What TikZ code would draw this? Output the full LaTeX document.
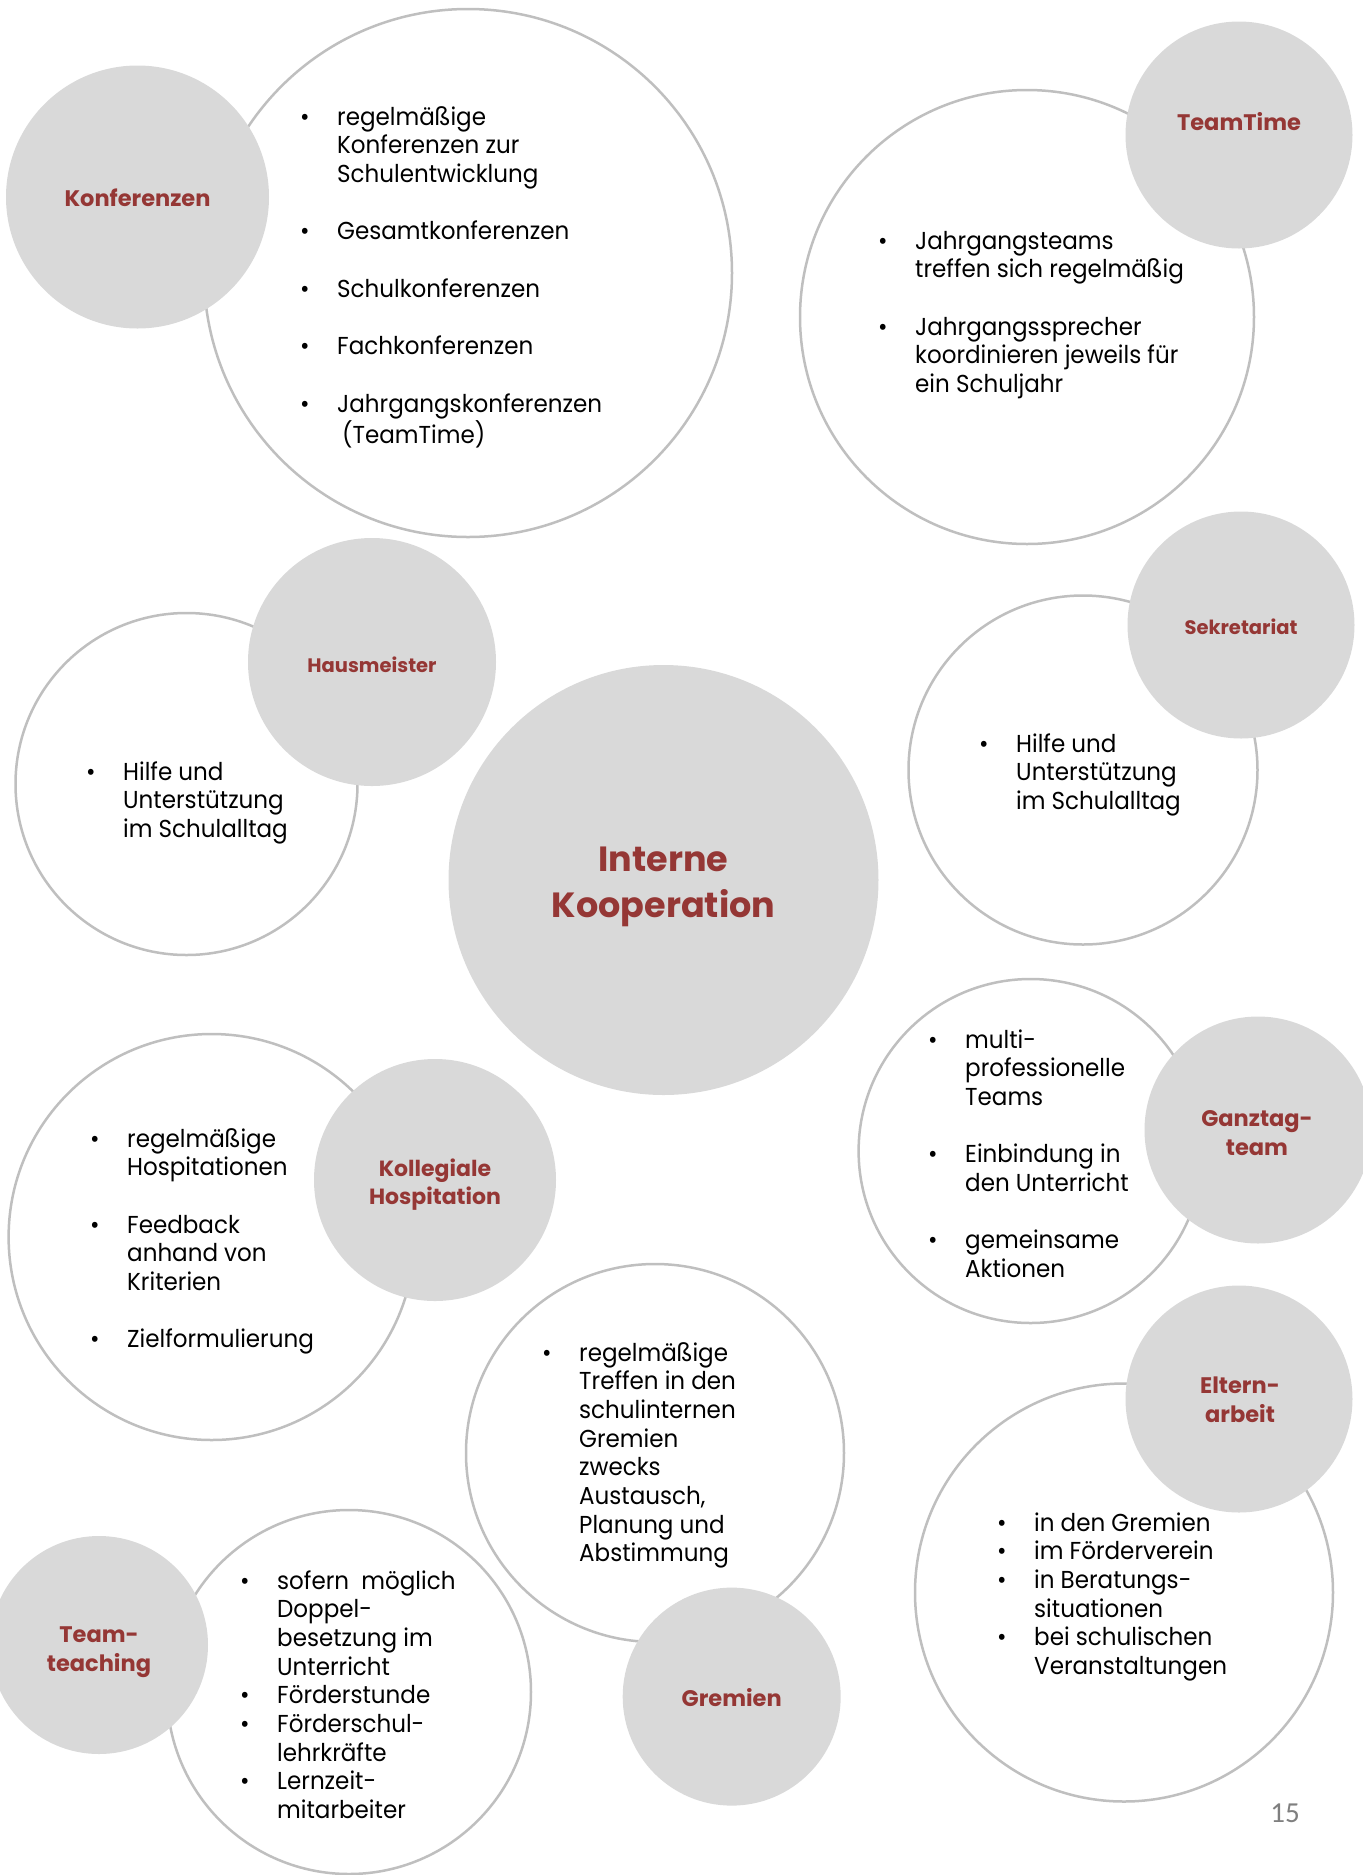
\documentclass[tikz,border=0pt]{standalone}
\usepackage{fontspec}
\setmainfont{Poppins}
\newfontfamily\bodyfont{Poppins}[FakeStretch=0.94]
\newfontfamily\pagefont{Carlito}
\definecolor{circfill}{HTML}{D9D9D9}
\definecolor{circline}{HTML}{BFBFBF}
\definecolor{headred}{HTML}{953735}
\definecolor{pagegray}{HTML}{7F7F7F}
\newcommand{\bl}{\makebox[37pt][l]{\textbullet}}
\newcommand{\ind}{\hspace*{37pt}}
\newcommand{\lst}[1]{\begin{tabular}[t]{@{}l@{}}#1\end{tabular}}
\begin{document}
\begin{tikzpicture}[x=1pt,y=-1pt,
  wcirc/.style={circle, draw=circline, line width=2.5pt, fill=white, inner sep=0pt, minimum size=#1},
  gcirc/.style={circle, fill=circfill, inner sep=0pt, minimum size=#1},
  head/.style={text=headred, align=center, inner sep=0pt, font=\bfseries\fontsize{22.5}{28.7}\selectfont},
  smallhead/.style={head, font=\bfseries\fontsize{19.5}{24}\selectfont},
  blist/.style={anchor=base west, inner sep=0pt, font=\bodyfont\fontsize{24.5}{28.7}\selectfont}]
\useasboundingbox (0,0) rectangle (1363,1875);
% white circles
\node[wcirc=528pt] (konfW) at (468,273) {};
\node[wcirc=454pt] (ttW) at (1027,317) {};
\node[wcirc=342pt] (hausW) at (186.5,784) {};
\node[wcirc=349pt] (sekW) at (1083,770) {};
\node[wcirc=406pt] (kollW) at (211.6,1237) {};
\node[wcirc=344pt] (ganzW) at (1030.6,1151) {};
\node[wcirc=378pt] (gremW) at (655,1453) {};
\node[wcirc=418pt] (elternW) at (1124,1592.5) {};
\node[wcirc=364pt] (teamW) at (349,1692) {};
% gray circles
\node[gcirc=263pt] (konfG) at (137.5,197) {};
\node[gcirc=227pt] (ttG) at (1239,135) {};
\node[gcirc=248pt] (hausG) at (372,662) {};
\node[gcirc=430pt] (ikG) at (663.5,880) {};
\node[gcirc=227pt] (sekG) at (1241,625) {};
\node[gcirc=242pt] (kollG) at (435,1180) {};
\node[gcirc=227pt] (ganzG) at (1258,1130) {};
\node[gcirc=218pt] (gremG) at (731.7,1696.6) {};
\node[gcirc=227pt] (elternG) at (1239,1399) {};
\node[gcirc=218pt] (teamG) at (99,1645) {};
% headings
\node[head] (konfH) at (137.5,198) {Konferenzen};
\node[head] (ttH) at (1239,122) {TeamTime};
\node[smallhead] (hausH) at (372,665) {Hausmeister};
\node[smallhead] (sekH) at (1241,627) {Sekretariat};
\node[head, font=\bfseries\fontsize{35}{46}\selectfont] (ikH) at (663.5,887) {Interne\\Kooperation};
\node[head, font=\bfseries\fontsize{22}{28.7}\selectfont] (kollH) at (435,1184.5) {Kollegiale\\Hospitation};
\node[head] (ganzH) at (1257,1133) {Ganztag-\\team};
\node[head] (teamH) at (99,1652) {Team-\\teaching};
\node[head] (gremH) at (731.7,1698) {Gremien};
\node[head] (elternH) at (1240,1399.5) {Eltern-\\arbeit};
% lists
\node[blist] (konfL) at (300,125) {\lst{\bl regelmäßige\\ \ind Konferenzen zur\\ \ind Schulentwicklung\\[28.7pt] \bl Gesamtkonferenzen\\[28.7pt] \bl Schulkonferenzen\\[28.7pt] \bl Fachkonferenzen\\[28.7pt] \bl Jahrgangskonferenzen\\ \ind\hspace*{5pt}(TeamTime)}};
\node[blist] (ttL) at (878,249) {\lst{\bl Jahrgangsteams\\ \ind treffen sich regelmäßig\\[28.7pt] \bl Jahrgangssprecher\\ \ind koordinieren jeweils für\\ \ind ein Schuljahr}};
\node[blist] (hausL) at (86,780) {\lst{\bl Hilfe und\\ \ind Unterstützung\\ \ind im Schulalltag}};
\node[blist] (sekL) at (979,752) {\lst{\bl Hilfe und\\ \ind Unterstützung\\ \ind im Schulalltag}};
\node[blist] (kollL) at (90,1147) {\lst{\bl regelmäßige\\ \ind Hospitationen\\[28.7pt] \bl Feedback\\ \ind anhand von\\ \ind Kriterien\\[28.7pt] \bl Zielformulierung}};
\node[blist] (ganzL) at (928,1048) {\lst{\bl multi-\\ \ind professionelle\\ \ind Teams\\[28.7pt] \bl Einbindung in\\ \ind den Unterricht\\[28.7pt] \bl gemeinsame\\ \ind Aktionen}};
\node[blist] (gremL) at (542,1361) {\lst{\bl regelmäßige\\ \ind Treffen in den\\ \ind schulinternen\\ \ind Gremien\\ \ind zwecks\\ \ind Austausch,\\ \ind Planung und\\ \ind Abstimmung}};
\node[blist] (teamL) at (240,1589) {\lst{\bl sofern\ \ möglich\\ \ind Doppel-\\ \ind besetzung im\\ \ind Unterricht\\ \bl Förderstunde\\ \bl Förderschul-\\ \ind lehrkräfte\\ \bl Lernzeit-\\ \ind mitarbeiter}};
\node[blist] (elternL) at (997,1531) {\lst{\bl in den Gremien\\ \bl im Förderverein\\ \bl in Beratungs-\\ \ind situationen\\ \bl bei schulischen\\ \ind Veranstaltungen}};
% page number
\node[text=pagegray, font=\pagefont\fontsize{29}{34}\selectfont, inner sep=0pt] (pnum) at (1285,1813) {15};
\end{tikzpicture}
\end{document}
